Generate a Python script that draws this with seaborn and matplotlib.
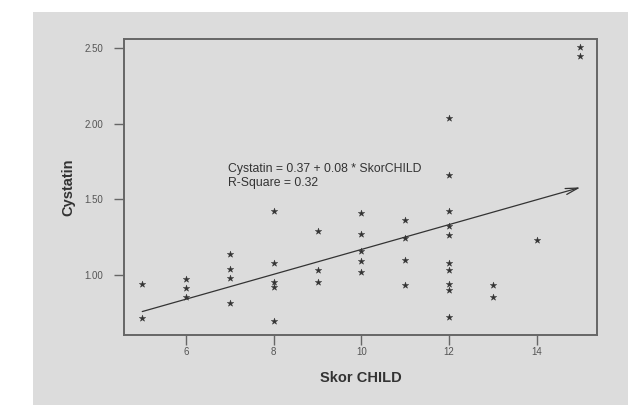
import numpy as np
import pandas as pd
import matplotlib
matplotlib.use("Agg")
import matplotlib.pyplot as plt
import seaborn as sns
from matplotlib.patches import Rectangle

# Data
skor = [5, 5,
        6, 6, 6,
        7, 7, 7, 7,
        8, 8, 8, 8, 8,
        9, 9, 9,
        10, 10, 10, 10, 10,
        11, 11, 11, 11,
        12, 12, 12, 12, 12, 12, 12, 12, 12, 12,
        13, 13,
        14,
        15, 15]
cystatin = [0.94, 0.71,
            0.97, 0.91, 0.85,
            1.14, 1.04, 0.98, 0.81,
            1.42, 1.08, 0.95, 0.92, 0.69,
            1.29, 1.03, 0.95,
            1.41, 1.27, 1.16, 1.09, 1.02,
            1.36, 1.24, 1.10, 0.93,
            2.04, 1.66, 1.42, 1.32, 1.26, 1.08, 1.03, 0.94, 0.90, 0.72,
            0.93, 0.85,
            1.23,
            2.51, 2.45]
x_ticks = [6, 8, 10, 12, 14]
y_ticks = [1.00, 1.50, 2.00, 2.50]
eq_text = "Cystatin = 0.37 + 0.08 * SkorCHILD"
r2_text = "R-Square = 0.32"

df = pd.DataFrame({"Skor CHILD": skor, "Cystatin": cystatin})

sns.set_style("white")
plt.rcParams['font.family'] = ['Liberation Sans', 'DejaVu Sans']

W, H = 636, 405
fig = plt.figure(figsize=(W / 100, H / 100), dpi=100)
fig.patch.set_facecolor("white")
panel_col = "#dcdcdc"
fig.patches.append(Rectangle((33 / W, 0), (628 - 33) / W, (405 - 12) / H,
                             transform=fig.transFigure, facecolor=panel_col,
                             edgecolor="none", zorder=-10))

ax = fig.add_axes([124.3 / W, 1 - 335 / H, (596.7 - 124.3) / W, (335 - 39.3) / H])
ax.set_facecolor(panel_col)

sns.scatterplot(data=df, x="Skor CHILD", y="Cystatin", marker="*", s=24,
                color="#333333", edgecolor="#333333", linewidth=0.3, ax=ax, zorder=3)

# Regression line with open arrowhead at the end
slope, intercept = np.polyfit(df["Skor CHILD"], df["Cystatin"], 1)
x0, x1 = min(skor), max(skor)
ax.annotate("", xy=(x1, intercept + slope * x1), xytext=(x0, intercept + slope * x0),
            arrowprops=dict(arrowstyle="->,head_length=0.9,head_width=0.22",
                            color="#333333", lw=0.9, shrinkA=0, shrinkB=0))

ax.text(6.95, 1.698, eq_text, fontsize=8.8, color="#333333", va="center", ha="left")
ax.text(6.95, 1.605, r2_text, fontsize=8.8, color="#333333", va="center", ha="left")

ax.set_xlim(4.59, 15.37)
ax.set_ylim(0.60, 2.56)
ax.set_xticks(x_ticks)
ax.set_xticklabels([str(t) for t in x_ticks])
ax.set_yticks(y_ticks)
ax.set_yticklabels([f"{t:.2f}" for t in y_ticks])

for sp in ax.spines.values():
    sp.set_visible(True)
    sp.set_color("#666666")
    sp.set_linewidth(1.4)

ax.tick_params(axis="both", direction="out", length=7, width=1.0, color="#666666",
               labelsize=7, labelcolor="#555555", bottom=True, left=True)
ax.tick_params(axis="y", pad=8)
ax.tick_params(axis="x", pad=1.5)

ax.set_xlabel("Skor CHILD", fontsize=10.5, fontweight="bold", color="#333333", labelpad=10)
ax.set_ylabel("Cystatin", fontsize=10.5, fontweight="bold", color="#333333", labelpad=7)

fig.savefig("out.png", dpi=100)
